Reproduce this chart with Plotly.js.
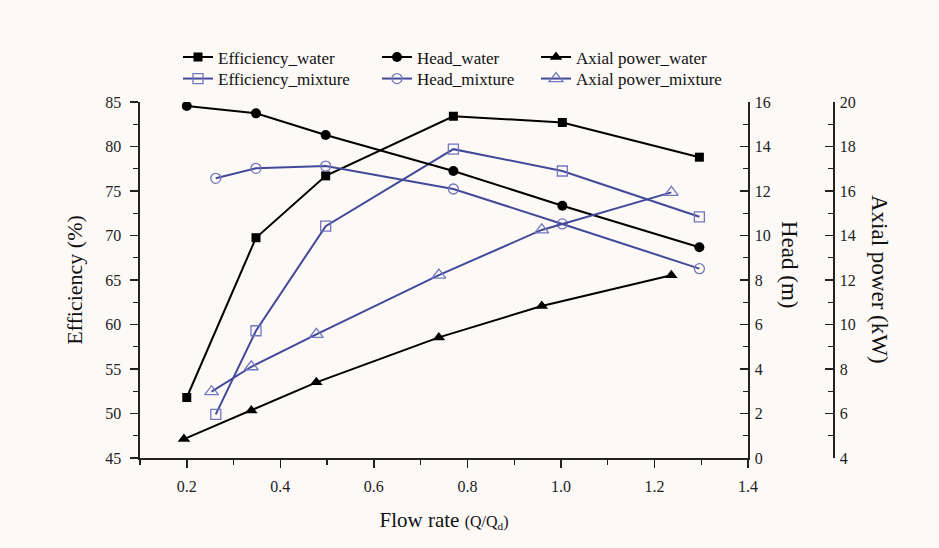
<!DOCTYPE html>
<html><head><meta charset="utf-8">
<script src="https://cdn.plot.ly/plotly-3.0.1.min.js"></script>
<style>html,body{margin:0;padding:0;background:#fcf9f7;}#chart{width:939px;height:548px;}</style>
</head><body><div id="chart"></div>
<script>
// Flow rate (Q/Qd)
const flowWaterEH = [0.2, 0.348, 0.497, 0.77, 1.003, 1.296];
const flowWaterP = [0.194, 0.338, 0.477, 0.739, 0.959, 1.236];
const flowMixEH = [0.262, 0.348, 0.497, 0.77, 1.003, 1.296];
const flowMixP = [0.253, 0.338, 0.477, 0.739, 0.959, 1.236];

const efficiencyWater = [51.8, 69.75, 76.7, 83.4, 82.7, 78.8];
const headWater = [15.82, 15.49, 14.52, 12.9, 11.34, 9.47];
const powerWater = [4.85, 6.13, 7.40, 9.42, 10.83, 12.21];

const efficiencyMix = [49.9, 59.3, 71.05, 79.7, 77.25, 72.1];
const headMix = [12.57, 13.02, 13.12, 12.09, 10.52, 8.51];
const powerMix = [6.98, 8.10, 9.56, 12.22, 14.25, 15.94];

const seriesNames = ["Efficiency_water", "Head_water", "Axial power_water",
                     "Efficiency_mixture", "Head_mixture", "Axial power_mixture"];

const FONT = "Liberation Serif, Times New Roman, serif";
const BLK = "#000000";
const BLUE = "#43499a";
const MK = "#7077bd";

function tr(x, y, name, yaxis, color, symbol, size, open, legend) {
  return {
    x: x, y: y, name: name, yaxis: yaxis, type: "scatter", mode: "lines+markers",
    legend: legend,
    line: {color: color, width: 2},
    marker: open ? {symbol: symbol + "-open", size: size, color: MK, line: {color: MK, width: 1.3}}
                 : {symbol: symbol, size: size, color: color, line: {width: 0}}
  };
}

const data = [
  tr(flowWaterEH, efficiencyWater, seriesNames[0], "y", BLK, "square", 9, false, "legend"),
  tr(flowWaterEH, headWater, seriesNames[1], "y2", BLK, "circle", 10, false, "legend2"),
  tr(flowWaterP, powerWater, seriesNames[2], "y3", BLK, "triangle-up", 11, false, "legend3"),
  tr(flowMixEH, efficiencyMix, seriesNames[3], "y", BLUE, "square", 10, true, "legend4"),
  tr(flowMixEH, headMix, seriesNames[4], "y2", BLUE, "circle", 10, true, "legend5"),
  tr(flowMixP, powerMix, seriesNames[5], "y3", BLUE, "triangle-up", 12, true, "legend6")
];

const axBase = {
  showline: true, linecolor: "#222", linewidth: 1.6, showgrid: false, zeroline: false,
  tickcolor: "#222", tickwidth: 1.5, ticklen: 8, automargin: false,
  tickfont: {family: FONT, size: 16, color: "#222"}
};

// paper: x 140..840 px, y 102..458 px
function leg(px, top) {
  return {x: (px - 140) / 700, xref: "paper", y: (458 - top) / 356, yref: "paper",
    xanchor: "left", yanchor: "top",
    orientation: "v", bgcolor: "rgba(0,0,0,0)", font: {family: FONT, size: 17, color: "#111"},
    itemwidth: 30};
}

const layout = {
  width: 939, height: 548,
  paper_bgcolor: "#fcf9f7", plot_bgcolor: "#fcf9f7",
  margin: {l: 140, r: 99, t: 102, b: 90, autoexpand: false},
  font: {family: FONT, color: "#111"},
  showlegend: true,
  legend: leg(178, 39.5), legend2: leg(377, 39.5), legend3: leg(536, 39.5),
  legend4: leg(178, 61), legend5: leg(377, 61), legend6: leg(536, 61),
  xaxis: Object.assign({}, axBase, {
    domain: [0, 0.8686], range: [0.1, 1.4], tick0: 0.2, dtick: 0.2, ticks: "outside",
    tickformat: ".1f", ticklabelstandoff: 5,
    minor: {dtick: 0.1, tick0: 0.1, ticks: "outside", ticklen: 5, tickcolor: "#222", tickwidth: 1.2},
    title: {text: "Flow rate <span style='font-size:16px'>(Q/Q<sub>d</sub>)</span>",
            font: {family: FONT, size: 21, color: "#111"}, standoff: 18}
  }),
  yaxis: Object.assign({}, axBase, {
    range: [45, 85], tick0: 45, dtick: 5, ticks: "outside", ticklabelstandoff: 6,
    minor: {dtick: 2.5, ticks: "outside", ticklen: 5, tickcolor: "#222", tickwidth: 1.2},
    title: {text: "Efficiency (%)", font: {family: FONT, size: 22, color: "#111"}, standoff: 16}
  }),
  yaxis2: Object.assign({}, axBase, {
    overlaying: "y", side: "right", anchor: "x", ticklabelstandoff: 2,
    range: [0, 16], dtick: 2, ticks: "inside",
    minor: {dtick: 1, ticks: "inside", ticklen: 5, tickcolor: "#222", tickwidth: 1.2}
  }),
  yaxis3: Object.assign({}, axBase, {
    overlaying: "y", side: "right", anchor: "free", position: 0.99, ticklabelstandoff: 2,
    range: [4, 20], dtick: 2, ticks: "inside",
    minor: {dtick: 1, ticks: "inside", ticklen: 5, tickcolor: "#222", tickwidth: 1.2}
  }),
  annotations: [
    {text: "Head (m)", xref: "paper", yref: "paper", x: (790 - 140) / 700, y: (458 - 265) / 356,
     xanchor: "center", yanchor: "middle",
     textangle: 90, showarrow: false, font: {family: FONT, size: 23, color: "#111"}},
    {text: "Axial power (kW)", xref: "paper", yref: "paper", x: (880 - 140) / 700, y: (458 - 279) / 356,
     xanchor: "center", yanchor: "middle",
     textangle: 90, showarrow: false, font: {family: FONT, size: 23, color: "#111"}}
  ]
};

Plotly.newPlot("chart", data, layout, {displayModeBar: false, staticPlot: true});
</script></body></html>
